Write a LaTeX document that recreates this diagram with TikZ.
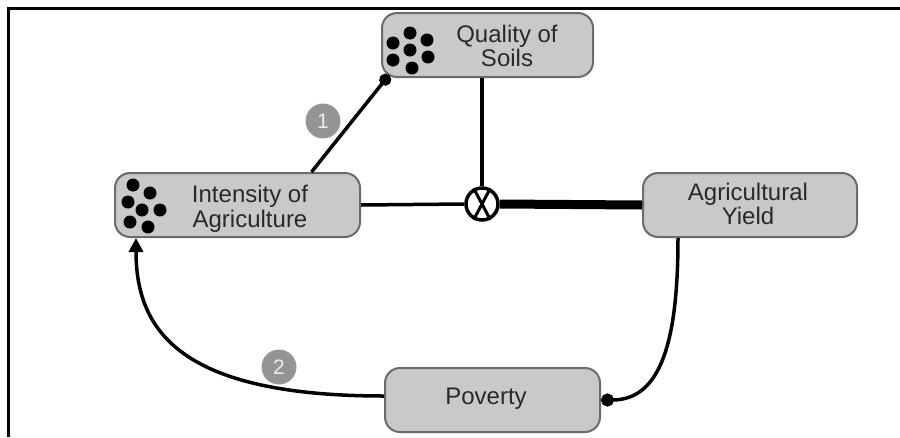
\documentclass[tikz,border=0pt]{standalone}
\usepackage{fontspec}
\setmainfont{Liberation Sans}
\usetikzlibrary{arrows.meta,calc}
\definecolor{boxfill}{gray}{0.79}
\definecolor{boxdraw}{gray}{0.42}
\definecolor{txtc}{gray}{0.16}
\definecolor{numfill}{gray}{0.58}
\begin{document}
\begin{tikzpicture}[x=1pt,y=-1pt,
  box/.style={draw=boxdraw, fill=boxfill, line width=2pt, rounded corners=15pt, minimum height=64pt, inner sep=0pt},
  txt/.style={align=center, text=txtc, font=\fontsize{24}{24.5}\selectfont, inner sep=0pt},
  conn/.style={line width=3.5pt, draw=black},
  num/.style={circle, fill=numfill, draw=gray!80, line width=1pt, minimum size=34pt, inner sep=0pt, text=white!85!gray, font=\fontsize{21}{21}\selectfont},
  seed/.style={fill=black}]
\useasboundingbox (0,0) rectangle (900,437);
\draw[line width=2.5pt] (8.5,437) -- (8.5,8.5) -- (900,8.5);

% boxes
\node[box, minimum width=211pt] (q) at (487.5,45) {};
\node[box, minimum width=245pt] (i) at (237.5,205) {};
\node[box, minimum width=214pt] (ay) at (750,205) {};
\node[box, minimum width=215pt] (p) at (492.5,400) {};

% texts
\node[txt] (qt) at (507,46) {Quality of\\Soils};
\node[txt] (it) at (250,209) {Intensity of\\Agriculture};
\node[txt] (ayt) at (748,204) {Agricultural\\Yield};
\node[txt] (pt) at (486,399) {Poverty};

% seed clusters
\foreach \x/\y in {410/33,393/43,427/40,410/50,393/60,428/57,412/68}
  \fill[seed] (\x,\y) circle (6.5);
\foreach \x/\y in {133/185,150/193,128/202,142/210,160/210,130/222,148/227}
  \fill[seed] (\x,\y) circle (6.5);

% multiplication node
\node[circle, draw, line width=3.5pt, minimum size=32pt, inner sep=0pt, fill=white] (m) at (482,204) {};
\draw[line width=3pt] (m.62) -- (m.242) (m.118) -- (m.298);

% connectors
\draw[conn, -{Circle[length=12pt]}] ([xshift=74pt]i.north) -- ([xshift=8pt,yshift=3pt]q.south west);
\draw[conn] (q.south -| m) -- (m.north);
\draw[conn] (i.east) -- (m.west);
\draw[line width=9pt] (m.east) -- (ay.west);
\draw[conn, -{Circle[length=13pt]}] ([xshift=-72pt]ay.south) .. controls +(0,103) and +(60,0) .. (p.east);
\draw[conn, -{Triangle[length=14pt,width=14pt]}] ([yshift=4pt]p.west) .. controls +(-205,0) and +(0,92) .. ([xshift=22pt]i.south west);

% number labels
\node[num] (n1) at (323,121) {1};
\node[num] (n2) at (279,367) {2};
\end{tikzpicture}
\end{document}
